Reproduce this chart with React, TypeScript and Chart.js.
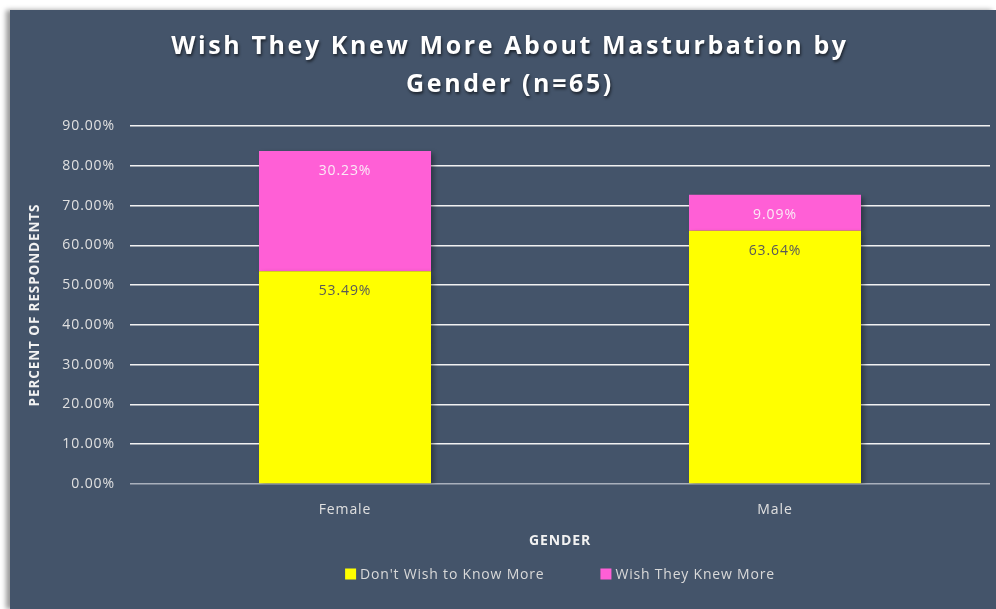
import React, { useEffect, useRef } from 'react';
import { Chart, registerables } from 'chart.js';

Chart.register(...registerables);

const categories = ['Female', 'Male'];
const dontWishValues = [53.49, 63.64];
const wishKnewValues = [30.23, 9.09];
const seriesNames = ["Don't Wish to Know More", 'Wish They Knew More'];
const seriesColors = ['#FFFF00', '#FF5FD6'];
const titleLines = ['Wish They Knew More About Masturbation by', 'Gender (n=65)'];
const yAxisTitle = 'PERCENT OF RESPONDENTS';
const xAxisTitle = 'GENDER';
const yMin = 0;
const yMax = 90;
const yStep = 10;

const PANEL_W = 986;
const PANEL_H = 599;
const FONT = '"Open Sans", "Noto Sans", sans-serif';

const spacingPlugin = {
  id: 'letterSpacing',
  beforeDraw(chart: any) {
    (chart.ctx as any).letterSpacing = '0.9px';
  },
};

const labelPlugin = {
  id: 'barLabelsAndShadow',
  beforeDatasetsDraw(chart: any) {
    const ctx = chart.ctx;
    ctx.save();
    ctx.shadowColor = 'rgba(0,0,0,0.35)';
    ctx.shadowBlur = 5;
    ctx.shadowOffsetX = 3;
    ctx.shadowOffsetY = 2;
  },
  afterDatasetsDraw(chart: any) {
    const ctx = chart.ctx;
    ctx.restore();
    ctx.save();
    ctx.font = `14px ${FONT}`;
    ctx.textAlign = 'center';
    ctx.textBaseline = 'middle';
    chart.data.datasets.forEach((ds: any, di: number) => {
      const meta = chart.getDatasetMeta(di);
      meta.data.forEach((el: any, i: number) => {
        const v = ds.data[i] as number;
        ctx.fillStyle = di === 0 ? '#595959' : '#FBEAF6';
        ctx.fillText(v.toFixed(2) + '%', el.x, el.y + 20);
      });
    });
    ctx.restore();
  },
  afterDraw(chart: any) {
    // legend built from dataset labels and colours
    const ctx = chart.ctx;
    ctx.save();
    (ctx as any).letterSpacing = '0.8px';
    ctx.font = `14px ${FONT}`;
    ctx.textBaseline = 'middle';
    ctx.textAlign = 'left';
    const box = 11;
    const boxGap = 4;
    const itemGap = 56;
    const items = chart.data.datasets.map((ds: any) => ({
      label: ds.label as string,
      color: ds.backgroundColor as string,
      w: box + boxGap + ctx.measureText(ds.label).width,
    }));
    const total = items.reduce((a: number, it: any) => a + it.w, 0) + itemGap * (items.length - 1);
    const area = chart.chartArea;
    let x = (area.left + area.right) / 2 - total / 2;
    const y = 564;
    items.forEach((it: any) => {
      ctx.fillStyle = it.color;
      ctx.fillRect(x, y - box / 2, box, box);
      ctx.fillStyle = '#D9D9D9';
      ctx.fillText(it.label, x + box + boxGap, y + 1);
      x += it.w + itemGap;
    });
    ctx.restore();
    (ctx as any).letterSpacing = '0px';
  },
};

export default function App() {
  const ref = useRef<HTMLCanvasElement | null>(null);

  useEffect(() => {
    if (!ref.current) return;
    const chart = new Chart(ref.current, {
      type: 'bar',
      data: {
        labels: categories,
        datasets: [
          {
            label: seriesNames[0],
            data: dontWishValues,
            backgroundColor: seriesColors[0],
            borderWidth: 0,
            barPercentage: 0.4,
            categoryPercentage: 1,
          },
          {
            label: seriesNames[1],
            data: wishKnewValues,
            backgroundColor: seriesColors[1],
            borderWidth: 0,
            barPercentage: 0.4,
            categoryPercentage: 1,
          },
        ],
      },
      options: {
        animation: false,
        responsive: false,
        maintainAspectRatio: false,
        layout: { padding: { top: 116, right: 6, left: 0, bottom: 0 } },
        plugins: {
          title: { display: false },
          tooltip: { enabled: false },
          legend: { display: false },
        },
        scales: {
          x: {
            stacked: true,
            grid: { display: false },
            border: { display: false },
            ticks: {
              color: '#E0E0E0',
              font: { family: FONT, size: 14 },
              padding: 10,
            },
            title: {
              display: true,
              text: xAxisTitle,
              color: '#F2F2F2',
              font: { family: FONT, size: 14, weight: 'bold' },
              padding: { top: 4, bottom: 60 },
            },
            afterFit: (s: any) => {
              s.height = 125;
            },
          },
          y: {
            stacked: true,
            min: yMin,
            max: yMax,
            border: { display: false },
            grid: {
              drawTicks: false,
              color: (c: any) => (c.tick && c.tick.value === 0 ? '#A9B0BC' : '#F2F2F2'),
              lineWidth: 1.6,
            },
            ticks: {
              stepSize: yStep,
              color: '#E0E0E0',
              font: { family: FONT, size: 14 },
              padding: 15,
              callback: (v: any) => Number(v).toFixed(2) + '%',
            },
            title: {
              display: true,
              text: yAxisTitle,
              color: '#F2F2F2',
              font: { family: FONT, size: 13.5, weight: 'bold' },
              padding: { top: 17, bottom: 0 },
            },
            afterFit: (s: any) => {
              s.width = 120;
            },
          },
        },
      },
      plugins: [spacingPlugin, labelPlugin],
    } as any);
    return () => chart.destroy();
  }, []);

  return (
    <div style={{ position: 'fixed', left: 0, top: 0, width: 996, height: 609, background: '#FFFFFF', overflow: 'hidden' }}>
      <div
        style={{
          position: 'absolute',
          left: 10,
          top: 10,
          width: PANEL_W,
          height: PANEL_H,
          background: '#44546A',
          boxShadow: '-4px 0 5px rgba(0,0,0,0.4)',
        }}
      >
        <canvas ref={ref} width={PANEL_W} height={PANEL_H} style={{ display: 'block' }} />
        <div
          style={{
            position: 'absolute',
            left: 0,
            top: 15,
            width: 1000,
            textAlign: 'center',
            color: '#FFFFFF',
            fontFamily: FONT,
            fontWeight: 700,
            fontSize: 25,
            lineHeight: '38px',
            letterSpacing: '2.6px',
            textShadow: '1px 2px 3px rgba(0,0,0,0.6)',
          }}
        >
          {titleLines[0]}
          <br />
          {titleLines[1]}
        </div>
      </div>
    </div>
  );
}
